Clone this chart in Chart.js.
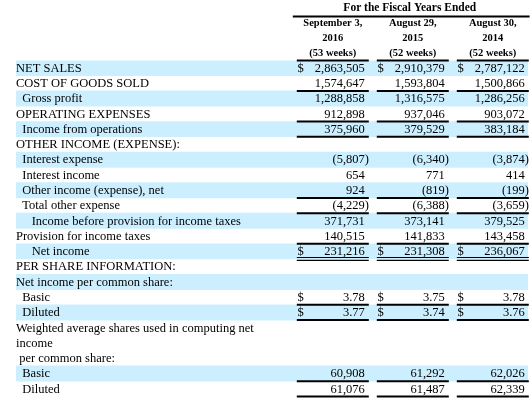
<!DOCTYPE html>
<html>
<head>
<meta charset="utf-8">
<script src="https://cdn.jsdelivr.net/npm/chart.js@4/dist/chart.umd.min.js"></script>
<style>
  html, body { margin: 0; padding: 0; background: #fff; }
  #wrap { width: 532px; height: 417px; position: relative; }
</style>
</head>
<body>
<div id="wrap"><canvas id="table"></canvas></div>
<script>
const NB = "\u00a0";

const rowLabels = [
  "NET SALES",
  "COST OF GOODS SOLD",
  NB + NB + "Gross profit",
  "OPERATING EXPENSES",
  NB + NB + "Income from operations",
  "OTHER INCOME (EXPENSE):",
  NB + NB + "Interest expense",
  NB + NB + "Interest income",
  NB + NB + "Other income (expense), net",
  NB + NB + "Total other expense",
  NB.repeat(5) + "Income before provision for income taxes",
  "Provision for income taxes",
  NB.repeat(5) + "Net income",
  "PER SHARE INFORMATION:",
  "Net income per common share:",
  NB + NB + "Basic",
  NB + NB + "Diluted",
  "Weighted average shares used in computing net",
  "income",
  NB + "per common share:",
  NB + NB + "Basic",
  NB + NB + "Diluted"
];

const headerTitle = "For the Fiscal Years Ended";
const columnTitles = [
  ["September 3,", "2016", "(53 weeks)"],
  ["August 29,", "2015", "(52 weeks)"],
  ["August 30,", "2014", "(52 weeks)"]
];

const fy2016 = [2863505, 1574647, 1288858, 912898, 375960, null, -5807, 654, 924, -4229,
  371731, 140515, 231216, null, null, 3.78, 3.77, null, null, null, 60908, 61076];
const fy2015 = [2910379, 1593804, 1316575, 937046, 379529, null, -6340, 771, -819, -6388,
  373141, 141833, 231308, null, null, 3.75, 3.74, null, null, null, 61292, 61487];
const fy2014 = [2787122, 1500866, 1286256, 903072, 383184, null, -3874, 414, -199, -3659,
  379525, 143458, 236067, null, null, 3.78, 3.76, null, null, null, 62026, 62339];

const dollarRows = [0, 12, 15, 16];
const underlineRows = [1, 3, 4, 8, 9, 11, 15, 16, 20, 21];
const doubleUnderlineRows = [12];
const shadedRows = [0, 2, 4, 6, 8, 10, 12, 14, 16, 20];

// layout of the value columns on the x scale (1 unit = one column)
const X_MAX = 6.4;
const colCenters = [3.96, 4.96, 5.96];
const FONT = '"Liberation Serif", "Times New Roman", serif';

function fmt(v) {
  const d = Number.isInteger(v) ? 0 : 2;
  return Math.abs(v).toLocaleString("en-US", {
    minimumFractionDigits: d,
    maximumFractionDigits: d
  });
}

const tablePlugin = {
  id: "tableText",
  afterDatasetsDraw(chart) {
    const ctx = chart.ctx;
    const xs = chart.scales.x;
    const ys = chart.scales.y;
    const area = chart.chartArea;
    const band = ys.getPixelForValue(1) - ys.getPixelForValue(0);
    const series = [fy2016, fy2015, fy2014];

    ctx.save();
    ctx.fillStyle = "#000";
    ctx.strokeStyle = "#000";
    ctx.textBaseline = "middle";

    // header
    ctx.font = "bold 11.5px " + FONT;
    ctx.textAlign = "center";
    ctx.fillText(headerTitle, xs.getPixelForValue(colCenters[1]) - 3, area.top - 52);
    ctx.lineWidth = 2;
    ctx.beginPath();
    ctx.moveTo(xs.getPixelForValue(colCenters[0] - 0.5), area.top - 44);
    ctx.lineTo(xs.getPixelForValue(colCenters[2] + 0.46), area.top - 44);
    ctx.stroke();
    ctx.font = "bold 10.5px " + FONT;
    columnTitles.forEach((lines, c) => {
      const cx = xs.getPixelForValue(colCenters[c]);
      lines.forEach((t, k) => ctx.fillText(t, cx, area.top - 37.5 + k * 15));
      ctx.beginPath();
      ctx.moveTo(xs.getPixelForValue(colCenters[c] - 0.45), area.top);
      ctx.lineTo(xs.getPixelForValue(colCenters[c] + 0.45), area.top);
      ctx.stroke();
    });

    // row labels
    ctx.font = "12.5px " + FONT;
    ctx.textAlign = "left";
    rowLabels.forEach((label, i) => {
      ctx.fillText(label, area.left, ys.getPixelForValue(i) + 0.5);
    });

    // values
    series.forEach((values, c) => {
      const numRight = xs.getPixelForValue(colCenters[c] + 0.40);
      const left = xs.getPixelForValue(colCenters[c] - 0.44);
      values.forEach((v, i) => {
        if (v === null) return;
        const y = ys.getPixelForValue(i) + 0.5;
        ctx.textAlign = "right";
        ctx.fillText(v < 0 ? "(" + fmt(v) : fmt(v), numRight, y);
        if (v < 0) {
          ctx.textAlign = "left";
          ctx.fillText(")", numRight, y);
        }
        if (dollarRows.includes(i)) {
          ctx.textAlign = "left";
          ctx.fillText("$", left, y);
        }
      });

      const x0 = xs.getPixelForValue(colCenters[c] - 0.45);
      const x1 = xs.getPixelForValue(colCenters[c] + 0.45);
      underlineRows.forEach(i => {
        const y = ys.getPixelForValue(i) + band / 2;
        ctx.lineWidth = 2;
        ctx.beginPath();
        ctx.moveTo(x0, y);
        ctx.lineTo(x1, y);
        ctx.stroke();
      });
      doubleUnderlineRows.forEach(i => {
        const y = ys.getPixelForValue(i) + band / 2;
        ctx.lineWidth = 1.2;
        [-1.5, 1.4].forEach(dy => {
          ctx.beginPath();
          ctx.moveTo(x0, y + dy);
          ctx.lineTo(x1, y + dy);
          ctx.stroke();
        });
      });
    });
    ctx.restore();
  }
};

new Chart(document.getElementById("table"), {
  type: "bar",
  data: {
    labels: rowLabels,
    datasets: [{
      data: rowLabels.map((_, i) => shadedRows.includes(i) ? [0, X_MAX] : null),
      backgroundColor: "#ccefff",
      borderWidth: 0,
      barPercentage: 1,
      categoryPercentage: 1
    }]
  },
  options: {
    indexAxis: "y",
    responsive: true,
    maintainAspectRatio: false,
    animation: false,
    layout: { padding: { left: 16, right: 4, top: 60.4, bottom: 20.5 } },
    plugins: {
      legend: { display: false },
      tooltip: { enabled: false }
    },
    scales: {
      x: { type: "linear", min: 0, max: X_MAX, display: false },
      y: { type: "category", display: false }
    }
  },
  plugins: [tablePlugin]
});
</script>
</body>
</html>
